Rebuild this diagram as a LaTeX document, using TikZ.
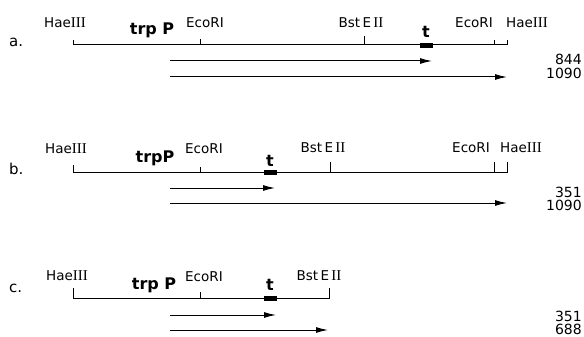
\documentclass[tikz,border=0pt]{standalone}
\usepackage{fontspec}
\setmainfont{DejaVu Sans}
\newfontfamily\romfont{Liberation Serif}
\usetikzlibrary{arrows.meta}
\newcommand\rIII{{\romfont\fontsize{15}{15}\selectfont III}}
\newcommand\rII{{\romfont\fontsize{15}{15}\selectfont II}}
\begin{document}
\begin{tikzpicture}[x=1pt,y=-1pt,
  dna/.style={line width=1pt},
  tx/.style={line width=1pt,-{Latex[length=12pt,width=6pt]}},
  site/.style={font=\fontsize{13.5}{13.5}\selectfont, anchor=base, inner sep=0pt},
  prom/.style={font=\fontsize{16}{16}\selectfont\bfseries, anchor=base, inner sep=0pt},
  tlab/.style={font=\fontsize{16}{16}\selectfont\bfseries, anchor=base, inner sep=0pt},
  term/.style={fill=black, draw=none, minimum width=13pt, minimum height=5pt, inner sep=0pt},
  panel/.style={font=\fontsize{15}{15}\selectfont, anchor=base west, inner sep=0pt},
  len/.style={font=\fontsize{14}{14}\selectfont, anchor=base east, inner sep=0pt}]
\useasboundingbox (0,0) rectangle (584,337);

% ---------- panel a ----------
\node[panel] (pa) at (9,47) {a.};
\node[site] (ha1) at (65,28) {Hae\rIII};
\node[prom] (pra) at (152,35) {trp P};
\node[site] (ea1) at (205,28) {EcoRI};
\node[site] (ba) at (361,28) {Bst\,E\,\rII};
\node[tlab] (ta) at (426,38) {t};
\node[site] (ea2) at (474,28) {EcoRI};
\node[site] (ha2) at (527,28) {Hae\rIII};
\coordinate (a0t) at (73,40); \coordinate (a0) at (73,45);
\coordinate (a1) at (507,45); \coordinate (a1t) at (507,40);
\draw[dna] (a0t) -- (a0) -- (a1) -- (a1t);
\coordinate (ae1) at (200,45); \coordinate (ae1t) at (200,39);
\draw[dna] (ae1) -- (ae1t);
\coordinate (ab) at (364,45); \coordinate (abt) at (364,36);
\draw[dna] (ab) -- (abt);
\coordinate (ae2) at (494,45); \coordinate (ae2t) at (494,40);
\draw[dna] (ae2) -- (ae2t);
\node[term] (tba) at (426,45.5) {};
\coordinate (ra1s) at (170,61); \coordinate (ra1e) at (432,61);
\coordinate (ra2s) at (170,77); \coordinate (ra2e) at (507,77);
\draw[tx] (ra1s) -- (ra1e);
\draw[tx] (ra2s) -- (ra2e);
\node[len] (na1) at (582,65) {844};
\node[len] (na2) at (582,79) {1090};

% ---------- panel b ----------
\node[panel] (pb) at (9,174) {b.};
\node[site] (hb1) at (66,153) {Hae\rIII};
\node[prom] (prb) at (155,162) {trpP};
\node[site] (eb1) at (204,153) {EcoRI};
\node[tlab] (tb) at (270,166) {t};
\node[site] (bb) at (323,152) {Bst\,E\,\rII};
\node[site] (eb2) at (471,152) {EcoRI};
\node[site] (hb2) at (521,152) {Hae\rIII};
\coordinate (b0t) at (73,165); \coordinate (b0) at (73,172);
\coordinate (b1) at (507,172); \coordinate (b1t) at (507,162);
\draw[dna] (b0t) -- (b0) -- (b1) -- (b1t);
\coordinate (be1) at (200,172); \coordinate (be1t) at (200,167);
\draw[dna] (be1) -- (be1t);
\coordinate (bb0) at (330,172); \coordinate (bbt) at (330,162);
\draw[dna] (bb0) -- (bbt);
\coordinate (be2) at (494,172); \coordinate (be2t) at (494,162);
\draw[dna] (be2) -- (be2t);
\node[term] (tbb) at (270,172.5) {};
\coordinate (rb1s) at (170,188); \coordinate (rb1e) at (275,188);
\coordinate (rb2s) at (170,203); \coordinate (rb2e) at (507,203);
\draw[tx] (rb1s) -- (rb1e);
\draw[tx] (rb2s) -- (rb2e);
\node[len] (nb1) at (582,197) {351};
\node[len] (nb2) at (582,210) {1090};

% ---------- panel c ----------
\node[panel] (pc) at (9,292) {c.};
\node[site] (hc1) at (67,280) {Hae\rIII};
\node[prom] (prc) at (154,289) {trp P};
\node[site] (ec1) at (204,281) {EcoRI};
\node[tlab] (tc) at (270,290) {t};
\node[site] (bc) at (319,280) {Bst\,E\,\rII};
\coordinate (c0t) at (73,288); \coordinate (c0) at (73,298);
\coordinate (c1) at (329,298); \coordinate (c1t) at (329,288);
\draw[dna] (c0t) -- (c0) -- (c1) -- (c1t);
\coordinate (ce1) at (200,298); \coordinate (ce1t) at (200,292);
\draw[dna] (ce1) -- (ce1t);
\node[term] (tbc) at (270,298.5) {};
\coordinate (rc1s) at (170,315); \coordinate (rc1e) at (276,315);
\coordinate (rc2s) at (170,330); \coordinate (rc2e) at (328,330);
\draw[tx] (rc1s) -- (rc1e);
\draw[tx] (rc2s) -- (rc2e);
\node[len] (nc1) at (582,321) {351};
\node[len] (nc2) at (582,334) {688};
\end{tikzpicture}
\end{document}
